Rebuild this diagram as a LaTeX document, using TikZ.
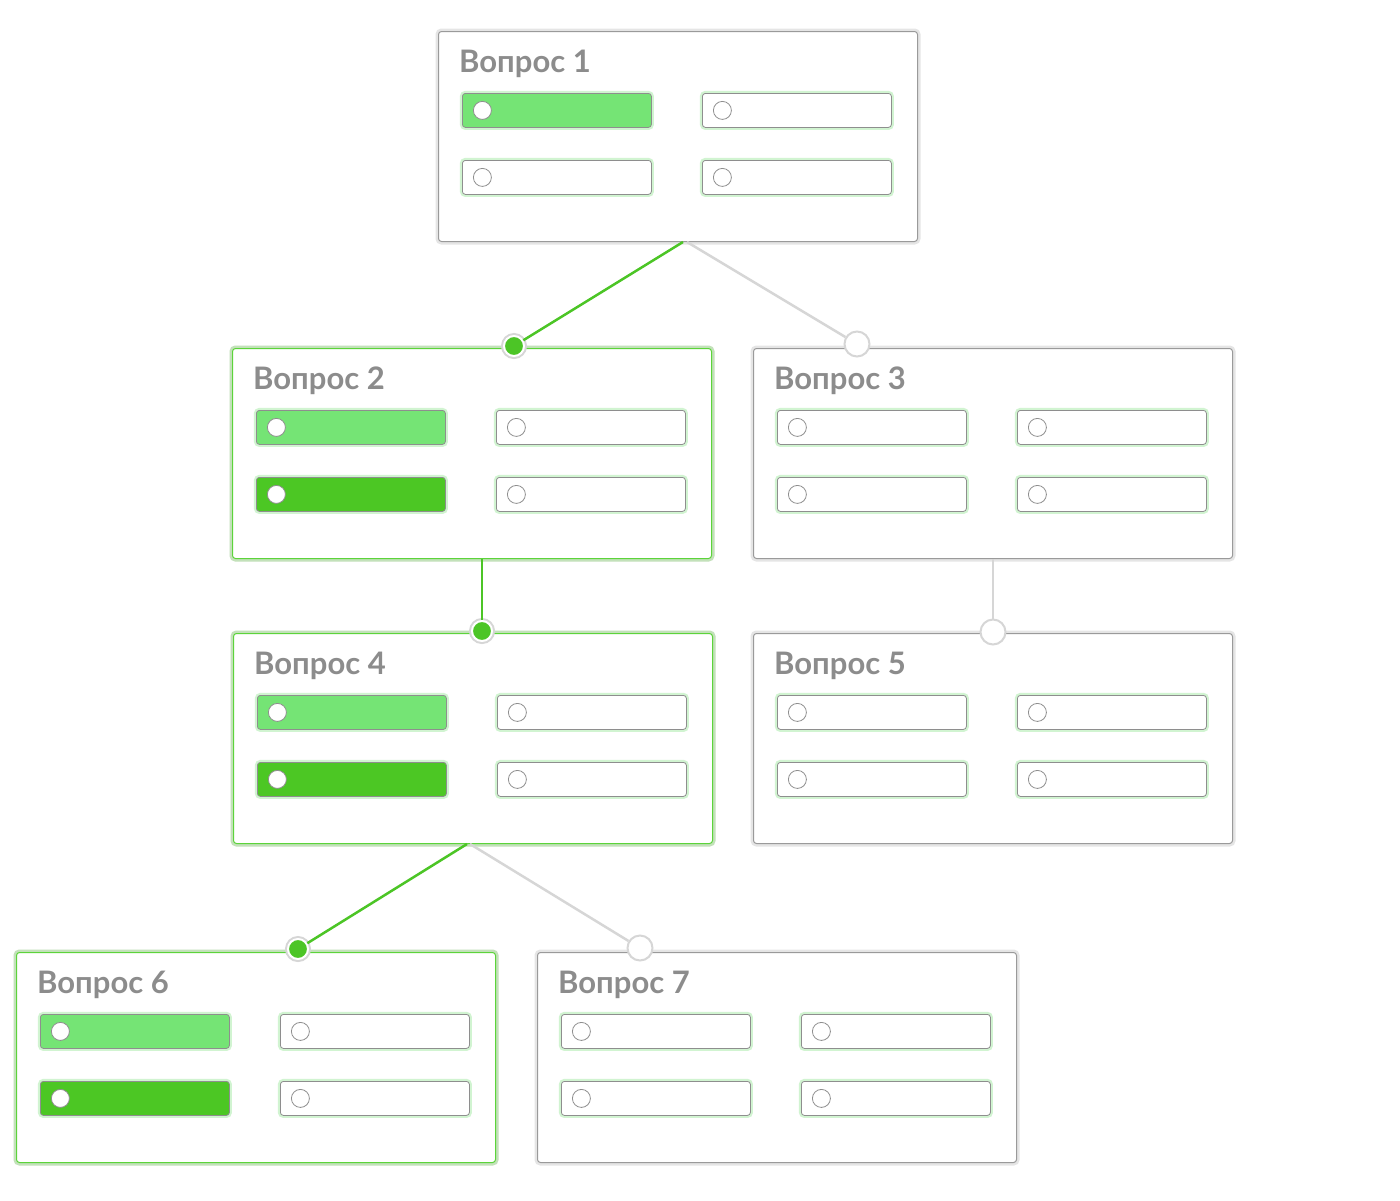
\documentclass[tikz,border=0pt]{standalone}
\usepackage{fontspec}
\setmainfont{Lato}
\usetikzlibrary{positioning, calc}

\begin{document}
\begin{tikzpicture}[
    x=1pt, y=-1pt,
    font=\bfseries
]

\definecolor{boxgray}{HTML}{9A9A9A}
\definecolor{boxgreen}{HTML}{5CD43A}
\definecolor{optgray}{HTML}{8E8E8E}
\definecolor{glowgreen}{HTML}{9BE89B}
\definecolor{lightpick}{HTML}{75E475}
\definecolor{darkpick}{HTML}{4CC724}
\definecolor{linkgreen}{HTML}{4CC526}
\definecolor{linkgray}{HTML}{D6D6D6}
\definecolor{mytext}{HTML}{8C8C8C}

\tikzset{
    qbox/.style={
        rectangle,
        rounded corners=3pt,
        draw=boxgray,
        line width=1pt,
        fill=white,
        minimum width=479pt,
        minimum height=210pt,
        inner sep=0pt,
        anchor=north west,
        preaction={draw=black, draw opacity=0.10, line width=6pt}
    },
    qboxon/.style={
        qbox,
        draw=boxgreen,
        preaction={draw=boxgreen, draw opacity=0.25, line width=6pt}
    },
    qtitle/.style={
        anchor=base west,
        inner sep=0pt,
        text=mytext,
        font=\fontsize{31}{37}\selectfont\bfseries
    },
    opt/.style={
        rectangle,
        rounded corners=3pt,
        draw=optgray,
        line width=0.8pt,
        fill=white,
        minimum width=189pt,
        minimum height=34pt,
        inner sep=0pt,
        preaction={draw=glowgreen, draw opacity=0.45, line width=5pt},
        path picture={
            \draw[optgray, fill=white, line width=0.8pt]
                ([xshift=20pt]path picture bounding box.west) circle (9pt);
        }
    },
    optlight/.style={opt, fill=lightpick},
    optdark/.style={opt, fill=darkpick},
    link/.style={line width=2.5pt, draw=linkgray},
    linkon/.style={line width=2.5pt, draw=linkgreen},
    pin/.style={
        circle,
        inner sep=0pt,
        minimum size=25pt,
        draw=linkgray,
        line width=2pt,
        fill=white
    },
    pinon/.style={
        circle,
        inner sep=0pt,
        minimum size=20pt,
        fill=linkgreen,
        draw=white,
        line width=2pt,
        preaction={draw=linkgray, line width=6pt}
    }
}

\useasboundingbox (0,0) rectangle (1400,1200);

% Question boxes
\node[qbox]   (q1) at (438,31)  {};
\node[qboxon] (q2) at (232,348) {};
\node[qbox]   (q3) at (753,348) {};
\node[qboxon] (q4) at (233,633) {};
\node[qbox]   (q5) at (753,633) {};
\node[qboxon] (q6) at (16,952)  {};
\node[qbox]   (q7) at (537,952) {};

% Titles
\foreach \q/\n in {q1/1, q2/2, q3/3, q4/4, q5/5, q6/6, q7/7}
    \node[qtitle] (\q t) at ($(\q.north west)+(21,41)$) {Вопрос \n};

% Answer buttons
\foreach \q/\one/\two in {q1/optlight/opt, q2/optlight/optdark, q3/opt/opt,
        q4/optlight/optdark, q5/opt/opt, q6/optlight/optdark, q7/opt/opt} {
    \node[\one, below right=62pt and 24pt of \q.north west]   (\q a) {};
    \node[opt,  below right=62pt and 264pt of \q.north west]  (\q b) {};
    \node[\two, below right=129pt and 24pt of \q.north west]  (\q c) {};
    \node[opt,  below right=129pt and 264pt of \q.north west] (\q d) {};
}

% Exit points
\coordinate (q1g) at ($(q1.south west)+(245,0)$);
\coordinate (q1r) at ($(q1.south west)+(249,0)$);
\coordinate (q2o) at ($(q2.south west)+(250,0)$);
\coordinate (q3o) at ($(q3.south west)+(240,0)$);
\coordinate (q4g) at ($(q4.south west)+(234,0)$);
\coordinate (q4r) at ($(q4.south west)+(237,0)$);

% Entry pins
\node[pinon] (p2) at ($(q2.north west)+(282,-2)$) {};
\node[pin]   (p3) at ($(q3.north west)+(104,-4)$) {};
\node[pinon] (p4) at ($(q4.north west)+(249,-2)$) {};
\node[pin]   (p5) at ($(q5.north west)+(240,-1)$) {};
\node[pinon] (p6) at ($(q6.north west)+(282,-3)$) {};
\node[pin]   (p7) at ($(q7.north west)+(103,-4)$) {};

% Links
\draw[linkon] (q1g) -- (p2);
\draw[link]   (q1r) -- (p3);
\draw[linkon] (q2o) -- (p4);
\draw[link]   (q3o) -- (p5);
\draw[linkon] (q4g) -- (p6);
\draw[link]   (q4r) -- (p7);

\end{tikzpicture}
\end{document}
